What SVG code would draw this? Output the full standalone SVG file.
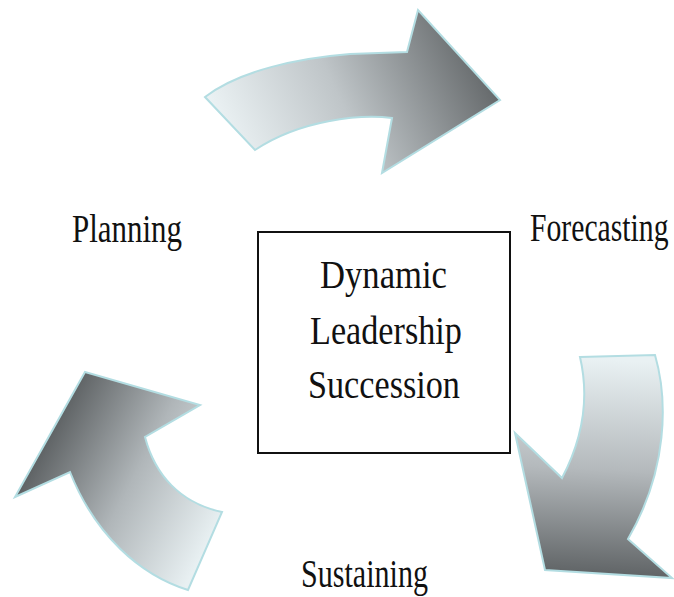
<svg xmlns="http://www.w3.org/2000/svg" width="674" height="597" viewBox="0 0 674 597">
  <style>
    .arrow { stroke: #b3dde2; stroke-width: 2; stroke-linejoin: miter; }
    .label { font-family: "Liberation Serif", "Times New Roman", serif; font-size: 40px; fill: #111; }
  </style>
  <defs>
    <linearGradient id="gradTop" gradientUnits="userSpaceOnUse" x1="235" y1="150" x2="470" y2="40">
      <stop offset="0" stop-color="#eaf1f3"/>
      <stop offset="0.45" stop-color="#bfc5c8"/>
      <stop offset="1" stop-color="#666a6c"/>
    </linearGradient>
    <linearGradient id="gradRight" gradientUnits="userSpaceOnUse" x1="610" y1="360" x2="600" y2="580">
      <stop offset="0" stop-color="#e9f1f3"/>
      <stop offset="0.5" stop-color="#b4b9bc"/>
      <stop offset="1" stop-color="#5c6062"/>
    </linearGradient>
    <linearGradient id="gradLeft" gradientUnits="userSpaceOnUse" x1="45" y1="440" x2="215" y2="530">
      <stop offset="0" stop-color="#5e6264"/>
      <stop offset="0.5" stop-color="#b0b6b9"/>
      <stop offset="1" stop-color="#e8f0f2"/>
    </linearGradient>
  </defs>

  <!-- cycle arrows -->
  <g id="connectors">
    <path id="arrow-top" class="arrow" fill="url(#gradTop)"
          d="M205,97 C240,70 300,58 350,54 L407,52 L418,10 L500,100 L382,173 L392,118 C360,114 300,120 255,150 Z"/>
    <path id="arrow-right" class="arrow" fill="url(#gradRight)"
          d="M580,357 L655,355 C668,400 668,470 628,539 L672,578 L545,570 L515,433 L562,478 C582,440 590,400 580,357 Z"/>
    <path id="arrow-left" class="arrow" fill="url(#gradLeft)"
          d="M85,372 L200,405 L145,437 C155,475 180,503 222,512 L188,590 C140,575 95,535 70,472 L15,497 Z"/>
  </g>

  <!-- stage labels, horizontally condensed -->
  <g id="node-planning">
    <text class="label" transform="translate(72,242) scale(0.774,1)">Planning</text>
  </g>
  <g id="node-forecasting">
    <text class="label" transform="translate(530,241) scale(0.742,1)">Forecasting</text>
  </g>
  <g id="node-sustaining">
    <text class="label" transform="translate(301,587) scale(0.752,1)">Sustaining</text>
  </g>

  <g id="node-center">
    <rect x="258" y="232" width="252" height="221" fill="#fff" stroke="#111" stroke-width="2"/>
    <text class="label" transform="translate(320,288) scale(0.866,1)">Dynamic</text>
    <text class="label" transform="translate(310,344) scale(0.855,1)">Leadership</text>
    <text class="label" transform="translate(308,398) scale(0.855,1)">Succession</text>
  </g>
</svg>
